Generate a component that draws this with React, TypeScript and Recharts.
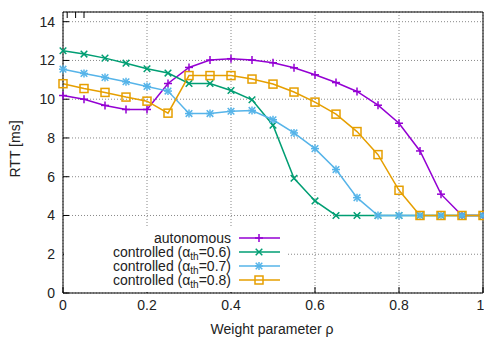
import React from 'react';
import { LineChart, Line, XAxis, YAxis, CartesianGrid } from 'recharts';

// weight parameter rho
const rho = [0, 0.05, 0.1, 0.15, 0.2, 0.25, 0.3, 0.35, 0.4, 0.45, 0.5, 0.55, 0.6, 0.65, 0.7, 0.75, 0.8, 0.85, 0.9, 0.95, 1];

const autonomous = [10.19, 10.0, 9.68, 9.47, 9.47, 10.81, 11.64, 12.02, 12.09, 12.02, 11.88, 11.62, 11.26, 10.86, 10.4, 9.69, 8.76, 7.33, 5.1, 4.0, 4.0];
const ctrl06 = [12.5, 12.33, 12.12, 11.86, 11.57, 11.35, 10.81, 10.81, 10.45, 9.97, 8.66, 5.92, 4.75, 4.0, 4.0, 4.0, 4.0, 4.0, 4.0, 4.0, 4.0];
const ctrl07 = [11.55, 11.33, 11.12, 10.9, 10.66, 10.42, 9.26, 9.26, 9.38, 9.42, 8.94, 8.26, 7.45, 6.37, 4.92, 4.0, 4.0, 4.0, 4.0, 4.0, 4.0];
const ctrl08 = [10.8, 10.55, 10.35, 10.11, 9.9, 9.28, 11.22, 11.22, 11.22, 11.04, 10.78, 10.37, 9.85, 9.23, 8.33, 7.14, 5.3, 4.0, 4.0, 4.0, 4.0];

const xTicks = [0, 0.2, 0.4, 0.6, 0.8, 1];
const yTicks = [0, 2, 4, 6, 8, 10, 12, 14];

const legendLabels = ['autonomous', '0.6', '0.7', '0.8'];

const C_AUTO = '#9400d3';
const C_06 = '#009e73';
const C_07 = '#56b4e9';
const C_08 = '#e69f00';

const data = rho.map((r, i) => ({
    rho: r,
    auto: autonomous[i],
    c06: ctrl06[i],
    c07: ctrl07[i],
    c08: ctrl08[i],
}));

const FONT = '"Liberation Sans", Arial, sans-serif';

type Kind = 'plus' | 'cross' | 'star' | 'square';

const Marker = ({ cx, cy, kind, color }: { cx: number; cy: number; kind: Kind; color: string }) => {
    const s = 4;
    const d = 3.3;
    const plus = (
        <>
            <line x1={cx - s} y1={cy} x2={cx + s} y2={cy} />
            <line x1={cx} y1={cy - s} x2={cx} y2={cy + s} />
        </>
    );
    const cross = (
        <>
            <line x1={cx - d} y1={cy - d} x2={cx + d} y2={cy + d} />
            <line x1={cx - d} y1={cy + d} x2={cx + d} y2={cy - d} />
        </>
    );
    return (
        <g stroke={color} strokeWidth={1.5} fill="none">
            {kind === 'plus' && plus}
            {kind === 'cross' && cross}
            {kind === 'star' && (
                <>
                    {plus}
                    {cross}
                </>
            )}
            {kind === 'square' && <rect x={cx - 4} y={cy - 4} width={8} height={8} />}
        </g>
    );
};

const dot = (kind: Kind, color: string) => (props: any) => {
    const { cx, cy, index } = props;
    if (cx == null || cy == null) return <g key={index} />;
    return <Marker key={index} cx={cx} cy={cy} kind={kind} color={color} />;
};

const fmt = (v: number) => (v === 0 || v === 1 ? String(v) : v.toFixed(1));
const tickStyle = { fontSize: 14, fill: '#222', fontFamily: FONT };

export default function App() {
    const legendRows: { kind: Kind; color: string }[] = [
        { kind: 'plus', color: C_AUTO },
        { kind: 'cross', color: C_06 },
        { kind: 'star', color: C_07 },
        { kind: 'square', color: C_08 },
    ];
    return (
        <div style={{ position: 'absolute', left: 0, top: 0, width: 484, height: 343, background: '#fff' }}>
            <LineChart width={484} height={343} data={data} margin={{ top: 11, right: 0, bottom: 0, left: 0 }}>
                <CartesianGrid stroke="#888" strokeDasharray="1 2" verticalPoints={undefined} />
                <XAxis
                    dataKey="rho"
                    type="number"
                    domain={[0, 1]}
                    ticks={xTicks}
                    tickFormatter={fmt}
                    height={50}
                    tickSize={-6}
                    tickMargin={13}
                    stroke="#000"
                    tick={tickStyle}
                />
                <XAxis
                    xAxisId="top"
                    orientation="top"
                    type="number"
                    domain={[0, 1]}
                    ticks={xTicks}
                    tickFormatter={() => ''}
                    height={1}
                    tickSize={-6}
                    stroke="#000"
                />
                <YAxis
                    type="number"
                    domain={[0, 14.5]}
                    ticks={yTicks}
                    width={63}
                    tickSize={-6}
                    tickMargin={14}
                    stroke="#000"
                    tick={tickStyle}
                />
                <YAxis
                    yAxisId="right"
                    orientation="right"
                    type="number"
                    domain={[0, 14.5]}
                    ticks={yTicks}
                    tickFormatter={() => ''}
                    width={1}
                    tickSize={-6}
                    stroke="#000"
                />
                <Line dataKey="auto" stroke={C_AUTO} strokeWidth={1.5} dot={dot('plus', C_AUTO)} isAnimationActive={false} />
                <Line dataKey="c06" stroke={C_06} strokeWidth={1.5} dot={dot('cross', C_06)} isAnimationActive={false} />
                <Line dataKey="c07" stroke={C_07} strokeWidth={1.5} dot={dot('star', C_07)} isAnimationActive={false} />
                <Line dataKey="c08" stroke={C_08} strokeWidth={1.5} dot={dot('square', C_08)} isAnimationActive={false} />
            </LineChart>
            <svg width={484} height={343} style={{ position: 'absolute', left: 0, top: 0, pointerEvents: 'none' }}>
                <rect x={64} y={228} width={224} height={64} fill="#fff" />
                {legendRows.map((row, i) => {
                    const cy = 238 + i * 14;
                    return (
                        <g key={i}>
                            <text x={231} y={cy + 5} textAnchor="end" fontSize={14} fontFamily={FONT} fill="#222">
                                {i === 0 ? (
                                    legendLabels[0]
                                ) : (
                                    <>
                                        controlled (α
                                        <tspan dy={3} fontSize={10}>th</tspan>
                                        <tspan dy={-3}>={legendLabels[i]})</tspan>
                                    </>
                                )}
                            </text>
                            <line x1={239} y1={cy} x2={280} y2={cy} stroke={row.color} strokeWidth={1.5} />
                            <Marker cx={259} cy={cy} kind={row.kind} color={row.color} />
                        </g>
                    );
                })}
                <text
                    x={0}
                    y={0}
                    transform="translate(20,149) rotate(-90)"
                    textAnchor="middle"
                    fontSize={14}
                    fontFamily={FONT}
                    fill="#222"
                >
                    RTT [ms]
                </text>
                <text x={272} y={334} textAnchor="middle" fontSize={14} fontFamily={FONT} fill="#222">
                    Weight parameter ρ
                </text>
            </svg>
        </div>
    );
}
